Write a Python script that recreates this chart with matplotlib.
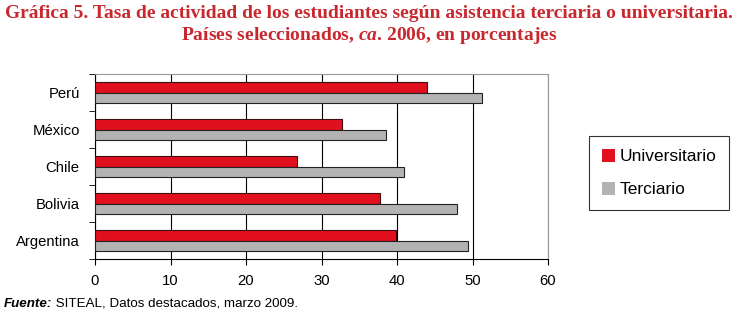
import numpy as np
import matplotlib.pyplot as plt

paises = ['Argentina', 'Bolivia', 'Chile', 'México', 'Perú']
universitario = [39.9, 37.8, 26.7, 32.7, 44.0]
terciario = [49.4, 48.0, 40.9, 38.5, 51.3]
xticks = [0, 10, 20, 30, 40, 50, 60]

rojo = '#e2101f'
gris = '#b3b3b3'

plt.rcParams['font.family'] = ['Liberation Sans', 'DejaVu Sans']
plt.rcParams['mathtext.fontset'] = 'custom'
plt.rcParams['mathtext.it'] = 'Liberation Serif:italic:bold'
plt.rcParams['mathtext.rm'] = 'Liberation Serif:bold'

fig = plt.figure(figsize=(7.38, 3.14), dpi=100)
ax = fig.add_axes([95 / 738, 1 - 259 / 314, 453 / 738, 185 / 314])

y = np.arange(len(paises))
h = 0.28
ax.barh(y + h / 2, universitario, height=h, color=rojo, edgecolor='#3a1010',
        linewidth=0.8, label='Universitario', zorder=3)
ax.barh(y - h / 2, terciario, height=h, color=gris, edgecolor='#222222',
        linewidth=0.8, label='Terciario', zorder=3)

ax.set_xlim(0, 60)
ax.set_ylim(-0.5, len(paises) - 0.5)
ax.set_xticks(xticks)
ax.set_xticklabels([str(v) for v in xticks], fontsize=10.7)
ax.set_yticks(y)
ax.set_yticklabels(paises, fontsize=10.7)
ax.set_yticks(np.arange(-0.5, len(paises), 1), minor=True)
ax.tick_params(axis='y', which='major', length=0, pad=11)
ax.tick_params(axis='y', which='minor', length=4, direction='out', color='black')
ax.tick_params(axis='x', length=4, direction='out', pad=7)
ax.grid(axis='x', color='black', linewidth=0.8, zorder=0)
for s in ['top', 'right']:
    ax.spines[s].set_color('#999999')
ax.spines['left'].set_color('black')
ax.spines['bottom'].set_color('black')

leg = ax.legend(loc='upper left', bbox_to_anchor=(589 / 738, 1 - 136 / 314),
                bbox_transform=fig.transFigure, fontsize=12.5, frameon=True,
                fancybox=False, edgecolor='black', handlelength=0.75,
                handleheight=0.75, handletextpad=0.25, labelspacing=1.0,
                borderpad=0.75, borderaxespad=0)
leg.get_frame().set_linewidth(0.8)
for p in leg.get_patches():
    p.set_edgecolor('none')

fig.text(0.5, 1 - 14 / 314, 'Gráfica 5. Tasa de actividad de los estudiantes según asistencia terciaria o universitaria.',
         ha='center', va='center', fontsize=14, fontweight='bold', color='#c8282d',
         family='Liberation Serif')
fig.text(0.5, 1 - 35 / 314, 'Países seleccionados, $ca$. 2006, en porcentajes',
         ha='center', va='center', fontsize=14, fontweight='bold', color='#c8282d',
         family='Liberation Serif')

t1 = fig.text(4 / 738, 1 - 304 / 314, 'Fuente:', ha='left', va='center', fontsize=9.6,
              fontweight='bold', style='italic')
ax.annotate(' SITEAL, Datos destacados, marzo 2009.', xy=(1, 0.5), xycoords=t1,
            ha='left', va='center', fontsize=9.6)

fig.savefig('out.png', dpi=100)
